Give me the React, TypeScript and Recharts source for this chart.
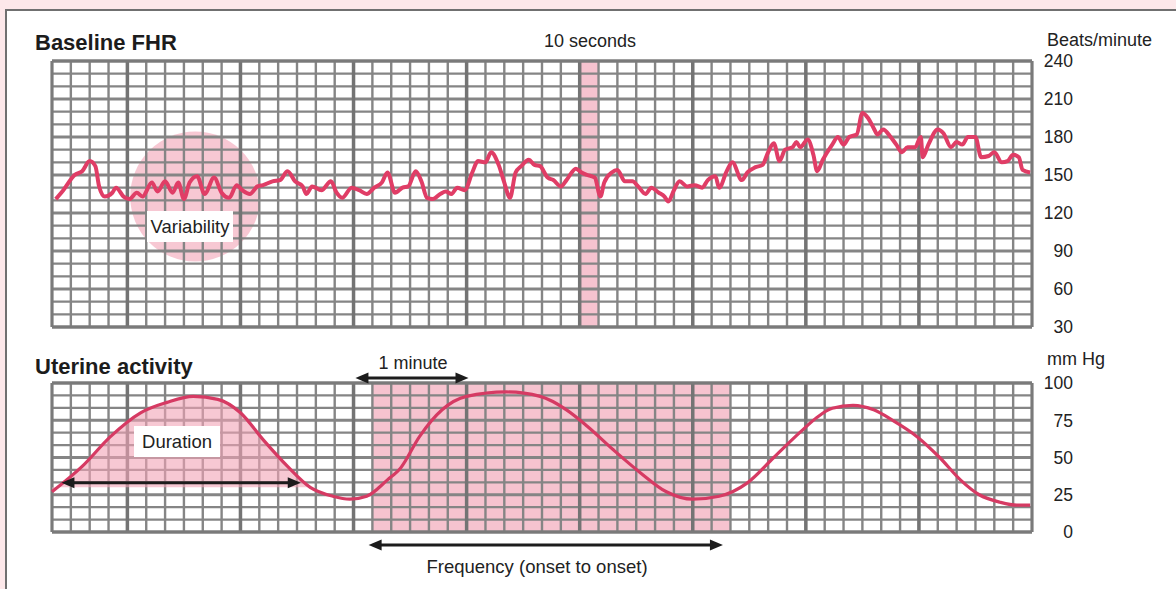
import React from "react";
import {
  ComposedChart,
  Line,
  Area,
  XAxis,
  YAxis,
  ReferenceLine,
  ReferenceArea,
  ReferenceDot,
} from "recharts";

// fetal heart rate trace, seconds from start of strip / beats per minute
const fhrSeconds = [
  2, 6, 12, 16, 20, 23, 25, 28, 32, 34, 38, 41, 45, 48, 53, 56, 60, 64, 67, 70,
  73, 77, 81, 86, 90, 94, 98, 101, 105, 109, 112, 117, 121, 125, 129, 133, 135,
  138, 143, 148, 151, 154, 159, 163, 167, 171, 175, 178, 182, 186, 189, 193,
  196, 199, 202, 206, 209, 212, 215, 219, 223, 226, 230, 233, 237, 240, 243,
  246, 249, 253, 256, 259, 263, 266, 270, 273, 278, 281, 284, 288, 291, 293,
  297, 300, 304, 308, 311, 315, 318, 322, 325, 327, 330, 333, 337, 341, 345,
  348, 352, 354, 358, 361, 366, 369, 373, 377, 380, 383, 386, 389, 393, 395,
  397, 401, 404, 406, 409, 414, 417, 420, 423, 427, 430, 433, 436, 438, 441,
  445, 448, 451, 454, 458, 461, 462, 465, 470, 473, 477, 480, 483, 486, 490,
  493, 497, 500, 504, 507, 510, 513, 515, 519,
];
const fhrBpm = [
  131, 138, 150, 153, 161, 157, 141, 133, 136, 140, 133, 131, 136, 133, 144,
  137, 145, 136, 144, 131, 144, 149, 135, 148, 136, 132, 142, 138, 135, 141,
  142, 145, 146, 153, 145, 141, 135, 141, 138, 145, 136, 132, 140, 138, 135,
  140, 144, 152, 136, 140, 141, 153, 145, 132, 131, 135, 137, 135, 140, 138,
  152, 161, 160, 168, 158, 144, 132, 152, 157, 162, 158, 157, 148, 146, 141,
  146, 155, 152, 150, 148, 133, 144, 152, 154, 145, 145, 141, 135, 140, 136,
  133, 129, 138, 145, 141, 142, 140, 146, 149, 140, 153, 160, 146, 152, 156,
  158, 168, 175, 161, 170, 172, 176, 172, 178, 166, 153, 162, 174, 180, 174,
  180, 182, 199, 195, 187, 182, 186, 180, 174, 168, 172, 172, 180, 164, 174,
  186, 183, 172, 176, 174, 180, 180, 164, 165, 168, 160, 161, 166, 164, 154,
  152,
];

// uterine pressure trace, seconds / mm Hg
const uaSeconds = [
  0, 16, 31, 47, 61, 75, 88, 100, 112, 125, 137, 149, 158, 167, 178, 185, 195,
  207, 220, 241, 259, 273, 284, 298, 312, 326, 340, 354, 369, 383, 397, 406,
  414, 425, 436, 446, 459, 471, 482, 492, 503, 512, 519,
];
const uaMmHg = [
  27, 44, 64, 80, 87, 91, 89, 80, 62, 44, 30, 24, 22, 24, 35, 43, 64, 82, 91,
  94, 91, 82, 71, 55, 40, 27, 22, 24, 33, 50, 67, 77, 83, 85, 82, 75, 64, 50,
  35, 25, 20, 18, 18,
];
const durationEnd = 137;

const fhrTicks = [30, 60, 90, 120, 150, 180, 210, 240];
const uaTicks = [0, 25, 50, 75, 100];

// paper grid: 10 s per small square, heavy line each minute
const gridX = Array.from({ length: 53 }, (_, i) => i * 10);
const gridXMajor = [40, 100, 160, 220, 280, 340, 400, 460];
const fhrGridY = Array.from({ length: 22 }, (_, i) => 30 + i * 10);
const uaGridY = Array.from({ length: 13 }, (_, i) => (i * 100) / 12);

const fhrData = fhrSeconds.map((t, i) => ({ t, bpm: fhrBpm[i] }));
const uaData = uaSeconds.map((t, i) => ({
  t,
  mmhg: uaMmHg[i],
  dur: t <= durationEnd ? uaMmHg[i] : null,
}));

const NARROW = "'Liberation Sans Narrow', 'Arial Narrow', 'Liberation Sans', Arial, sans-serif";
const BOLD = "'Liberation Sans', Arial, Helvetica, sans-serif";
const GRID = "#858585";
const TRACE = "#e03d66";
const PINK = "#f1a3b5";
const INK = "#1c1c1c";

const RightTick = ({ x, y, payload }: any) => (
  <text x={x + 41} y={y} dy="0.36em" textAnchor="end" fontFamily={NARROW} fontSize={17.5} fill="#222">
    {payload.value}
  </text>
);

const arrowShape = (props: any) => {
  const { x1, y1, x2, y2 } = props;
  const h = 13;
  const w = 5.5;
  return (
    <g>
      <line x1={x1 + h - 2} y1={y1} x2={x2 - h + 2} y2={y2} stroke={INK} strokeWidth={3} />
      <polygon points={`${x1},${y1} ${x1 + h},${y1 - w} ${x1 + h},${y1 + w}`} fill={INK} />
      <polygon points={`${x2},${y2} ${x2 - h},${y2 - w} ${x2 - h},${y2 + w}`} fill={INK} />
    </g>
  );
};

function paperGrid(rows: number[], yMin: number, yMax: number, majorEvery: number) {
  return [
    ...gridX.map((t) => (
      <ReferenceLine key={`vx${t}`} x={t} stroke={GRID} strokeWidth={2.4} zIndex={20} />
    )),
    ...gridXMajor.map((t) => (
      <ReferenceLine key={`vX${t}`} x={t} stroke="#747474" strokeWidth={3.5} zIndex={21} />
    )),
    ...rows.map((v, i) => (
      <ReferenceLine
        key={`hy${i}`}
        y={v}
        stroke={GRID}
        strokeWidth={i % majorEvery === 0 ? 3 : 2.4}
        zIndex={20}
      />
    )),
    <ReferenceLine key="bl" x={0} stroke="#7a7a7a" strokeWidth={3} zIndex={22} />,
    <ReferenceLine key="br" x={520} stroke="#7a7a7a" strokeWidth={3} zIndex={22} />,
    <ReferenceLine key="bt" y={yMax} stroke="#7a7a7a" strokeWidth={3} zIndex={22} />,
    <ReferenceLine key="bb" y={yMin} stroke="#7a7a7a" strokeWidth={3} zIndex={22} />,
  ];
}

export default function App() {
  return (
    <div
      style={{
        position: "absolute",
        left: 0,
        top: 0,
        width: 1176,
        height: 589,
        overflow: "hidden",
        background: "#fde8ea",
      }}
    >
      <div
        style={{
          position: "absolute",
          left: 5,
          top: 9,
          width: 1200,
          height: 600,
          background: "#fff",
          borderLeft: "2px solid #707070",
          borderTop: "2px solid #707070",
        }}
      />

      <div style={{ position: "absolute", left: 0, top: 0 }}>
        <ComposedChart width={1176} height={340} data={fhrData} margin={{ top: 61, left: 52, right: 84, bottom: 13 }}>
          <XAxis dataKey="t" type="number" domain={[0, 520]} hide />
          <YAxis
            orientation="right"
            domain={[30, 240]}
            ticks={fhrTicks}
            width={60}
            tickSize={0}
            tickMargin={0}
            axisLine={false}
            tickLine={false}
            tick={<RightTick />}
            allowDataOverflow
          />
          <ReferenceArea x1={280} x2={290} y1={30} y2={240} fill={PINK} fillOpacity={0.65} zIndex={10} />
          <ReferenceDot x={76} y={133} r={65} fill={PINK} fillOpacity={0.6} stroke="none" zIndex={10} />
          {paperGrid(fhrGridY, 30, 240, 3)}
          <Line
            dataKey="bpm"
            type="monotone"
            stroke={TRACE}
            strokeWidth={4}
            strokeLinejoin="round"
            dot={false}
            activeDot={false}
            isAnimationActive={false}
            zIndex={40}
          />
        </ComposedChart>
      </div>

      <div style={{ position: "absolute", left: 0, top: 340 }}>
        <ComposedChart width={1176} height={249} data={uaData} margin={{ top: 43, left: 52, right: 84, bottom: 57 }}>
          <XAxis dataKey="t" type="number" domain={[0, 520]} hide />
          <YAxis
            orientation="right"
            domain={[0, 100]}
            ticks={uaTicks}
            width={60}
            tickSize={0}
            tickMargin={0}
            axisLine={false}
            tickLine={false}
            tick={<RightTick />}
            allowDataOverflow
          />
          <ReferenceArea x1={170} x2={360} y1={0} y2={100} fill={PINK} fillOpacity={0.65} zIndex={10} />
          {paperGrid(uaGridY, 0, 100, 3)}
          <Area
            dataKey="dur"
            type="monotone"
            baseValue={30}
            fill={PINK}
            fillOpacity={0.6}
            stroke="none"
            isAnimationActive={false}
            activeDot={false}
            zIndex={30}
          />
          <Line
            dataKey="mmhg"
            type="monotone"
            stroke="#d63a63"
            strokeWidth={3.2}
            dot={false}
            activeDot={false}
            isAnimationActive={false}
            zIndex={40}
          />
          <ReferenceLine segment={[{ x: 5, y: 33 }, { x: 132, y: 33 }]} shape={arrowShape} ifOverflow="visible" zIndex={50} />
          <ReferenceLine segment={[{ x: 161, y: 103.4 }, { x: 221, y: 103.4 }]} shape={arrowShape} ifOverflow="visible" zIndex={50} />
          <ReferenceLine segment={[{ x: 168, y: -8.7 }, { x: 356, y: -8.7 }]} shape={arrowShape} ifOverflow="visible" zIndex={50} />
        </ComposedChart>
      </div>

      <svg width={1176} height={589} style={{ position: "absolute", left: 0, top: 0, pointerEvents: "none" }}>
        <text x={35} y={50} fontFamily={BOLD} fontWeight="bold" fontSize={22} fill={INK}>Baseline FHR</text>
        <text x={35} y={374} fontFamily={BOLD} fontWeight="bold" fontSize={22} fill={INK}>Uterine activity</text>
        <text x={590} y={47} textAnchor="middle" fontFamily={NARROW} fontSize={18} fill="#222">10 seconds</text>
        <text x={1047} y={46} fontFamily={NARROW} fontSize={18} fill="#222">Beats/minute</text>
        <text x={1047} y={365} fontFamily={NARROW} fontSize={18} fill="#222">mm Hg</text>
        <text x={413} y={369} textAnchor="middle" fontFamily={NARROW} fontSize={18} fill="#222">1 minute</text>
        <text x={537} y={573} textAnchor="middle" fontFamily={NARROW} fontSize={18.5} fill="#222">Frequency (onset to onset)</text>
        <rect x={147} y={211} width={86} height={31} fill="#fff" />
        <text x={190} y={233} textAnchor="middle" fontFamily={NARROW} fontSize={18.5} fill="#222">Variability</text>
        <rect x={134} y={426} width={86} height={31} fill="#fff" />
        <text x={177} y={448} textAnchor="middle" fontFamily={NARROW} fontSize={18.5} fill="#222">Duration</text>
      </svg>
    </div>
  );
}
